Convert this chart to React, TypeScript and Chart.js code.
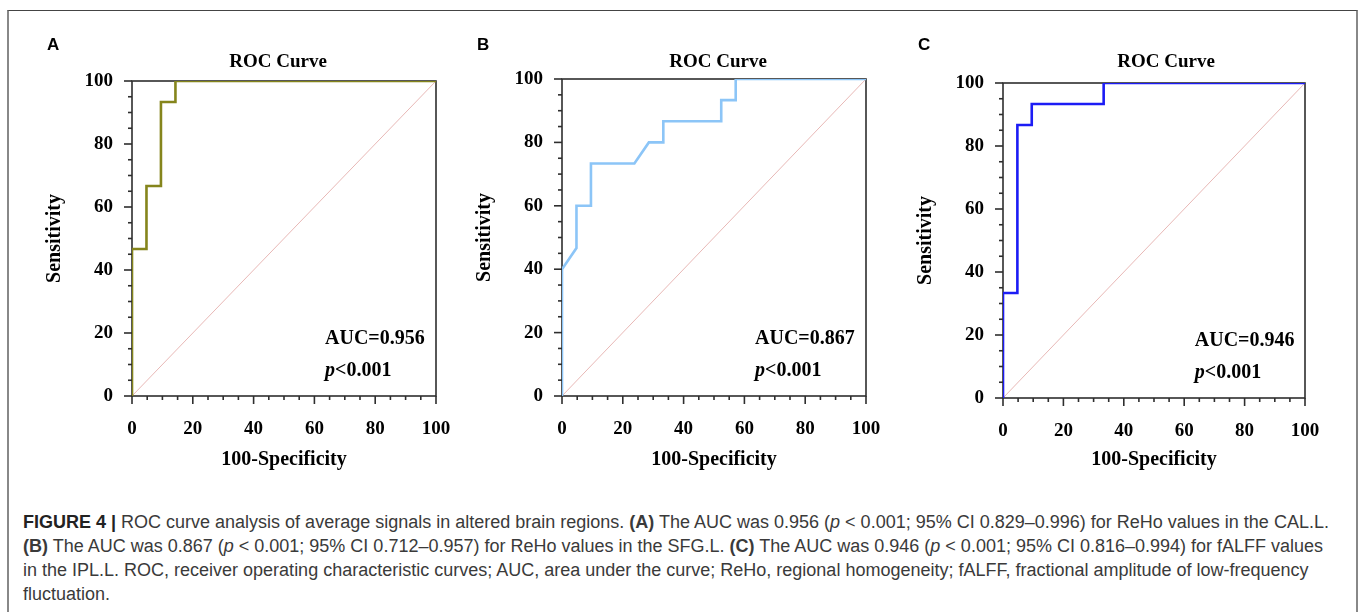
import React, { useEffect, useRef } from "react";
import { Chart, registerables } from "chart.js";

Chart.register(...registerables);

// ---------- data ----------
const panelLetters = ["A", "B", "C"];
const chartTitle = "ROC Curve";
const xAxisTitle = "100-Specificity";
const yAxisTitle = "Sensitivity";
const aucLabels = ["AUC=0.956", "AUC=0.867", "AUC=0.946"];
const pLabelItalic = "p";
const pLabelRest = "<0.001";

const axisMin = 0;
const axisMax = 100;
const majorStep = 20;
const minorStep = 5;

// 100-Specificity (false positive rate, %) and Sensitivity (%) for each panel
const fprA = [0, 0, 4.76, 4.76, 9.52, 9.52, 14.29, 14.29, 100];
const tprA = [0, 46.67, 46.67, 66.67, 66.67, 93.33, 93.33, 100, 100];

const fprB = [0, 0, 4.76, 4.76, 9.52, 9.52, 23.81, 28.57, 33.33, 33.33, 52.38, 52.38, 57.14, 57.14, 100];
const tprB = [0, 40, 46.67, 60, 60, 73.33, 73.33, 80, 80, 86.67, 86.67, 93.33, 93.33, 100, 100];

const fprC = [0, 0, 4.76, 4.76, 9.52, 9.52, 33.33, 33.33, 100];
const tprC = [0, 33.33, 33.33, 86.67, 86.67, 93.33, 93.33, 100, 100];

const refX = [0, 100];
const refY = [0, 100];

// ---------- layout / style ----------
const curveColors = ["#85851c", "#8cc5f7", "#1c1cf5"];
const refColor = "#e8b8b6";
const serif = '"Liberation Serif", "Times New Roman", serif';

type PanelLayout = {
  left: number;
  top: number;
  width: number;
  height: number;
  areaTop: number;
  areaW: number;
  xAxisH: number;
  yAxisW: number;
  titleX: number;
};

const panels: PanelLayout[] = [
  { left: 20, top: 20, width: 460, height: 460, areaTop: 61, areaW: 304, xAxisH: 84, yAxisW: 112, titleX: 258 },
  { left: 450, top: 20, width: 460, height: 460, areaTop: 59, areaW: 304, xAxisH: 84, yAxisW: 112, titleX: 268 },
  { left: 891, top: 20, width: 460, height: 460, areaTop: 63, areaW: 302, xAxisH: 82, yAxisW: 112, titleX: 275 },
];

const toPoints = (xs: number[], ys: number[]) => xs.map((x, i) => ({ x, y: ys[i] }));

const decorPlugin = {
  id: "rocDecor",
  beforeDatasetsDraw(chart: any) {
    const { ctx, chartArea } = chart;
    const { left, right, top, bottom } = chartArea;
    const xs = chart.scales.x;
    const ys = chart.scales.y;
    ctx.save();
    ctx.strokeStyle = "#2e2e2e";
    ctx.lineWidth = 1.6;
    ctx.strokeRect(left, top, right - left, bottom - top);
    for (let v = axisMin; v <= axisMax; v += minorStep) {
      const len = v % majorStep === 0 ? 8 : 4;
      const px = xs.getPixelForValue(v);
      ctx.beginPath();
      ctx.moveTo(px, bottom);
      ctx.lineTo(px, bottom + len);
      ctx.stroke();
      const py = ys.getPixelForValue(v);
      ctx.beginPath();
      ctx.moveTo(left, py);
      ctx.lineTo(left - len, py);
      ctx.stroke();
    }
    ctx.restore();
  },
  afterDraw(chart: any, _args: any, opts: any) {
    const { ctx, chartArea } = chart;
    const { left, right, top, bottom } = chartArea;
    ctx.save();
    ctx.fillStyle = "#000";
    ctx.textBaseline = "alphabetic";

    // panel letter
    ctx.font = 'bold 17px "Liberation Sans", Arial, sans-serif';
    ctx.textAlign = "left";
    ctx.fillText(opts.letter, 27, 30);

    // title
    ctx.font = `bold 19px ${serif}`;
    ctx.textAlign = "center";
    ctx.fillText(chartTitle, opts.titleX, 47);

    // x axis title
    ctx.font = `bold 20px ${serif}`;
    ctx.fillText(xAxisTitle, (left + right) / 2, 445);

    // y axis title
    ctx.save();
    ctx.translate(35, (top + bottom) / 2);
    ctx.rotate(-Math.PI / 2);
    ctx.textBaseline = "middle";
    ctx.fillText(yAxisTitle, 0, 0);
    ctx.restore();

    // AUC & p
    const tx = left + 0.635 * (right - left);
    ctx.textAlign = "left";
    ctx.font = `bold 20px ${serif}`;
    ctx.fillText(opts.auc, tx, bottom - 52);
    ctx.font = `italic bold 20px ${serif}`;
    ctx.fillText(pLabelItalic, tx, bottom - 20);
    const w = ctx.measureText(pLabelItalic).width;
    ctx.font = `bold 20px ${serif}`;
    ctx.fillText(pLabelRest, tx + w, bottom - 20);
    ctx.restore();
  },
};

function RocPanel({ index, fpr, tpr }: { index: number; fpr: number[]; tpr: number[] }) {
  const ref = useRef<HTMLCanvasElement | null>(null);
  const L = panels[index];
  useEffect(() => {
    if (!ref.current) return;
    const tickFont = { family: serif, size: 19, weight: "bold" as const };
    const chart = new Chart(ref.current, {
      type: "scatter",
      data: {
        datasets: [
          {
            data: toPoints(fpr, tpr),
            showLine: true,
            borderColor: curveColors[index],
            borderWidth: 2.6,
            pointRadius: 0,
            fill: false,
            tension: 0,
          },
          {
            data: toPoints(refX, refY),
            showLine: true,
            borderColor: refColor,
            borderWidth: 1,
            pointRadius: 0,
            fill: false,
          },
        ],
      },
      options: {
        animation: false,
        responsive: false,
        events: [],
        layout: {
          padding: {
            top: L.areaTop,
            left: 0,
            bottom: 0,
            right: L.width - L.yAxisW - L.areaW,
          },
        },
        plugins: {
          legend: { display: false },
          tooltip: { enabled: false },
          title: { display: false },
          rocDecor: {
            letter: panelLetters[index],
            auc: aucLabels[index],
            titleX: L.titleX,
          },
        } as any,
        scales: {
          x: {
            type: "linear",
            min: axisMin,
            max: axisMax,
            grid: { display: false, drawTicks: false },
            border: { display: false },
            ticks: {
              stepSize: majorStep,
              padding: 22,
              font: tickFont,
              color: "#000",
              maxRotation: 0,
              autoSkip: false,
            },
            afterFit: (s: any) => {
              s.height = L.xAxisH;
            },
          },
          y: {
            type: "linear",
            min: axisMin,
            max: axisMax,
            grid: { display: false, drawTicks: false },
            border: { display: false },
            ticks: {
              stepSize: majorStep,
              padding: 19,
              font: tickFont,
              color: "#000",
              autoSkip: false,
            },
            afterFit: (s: any) => {
              s.width = L.yAxisW;
            },
          },
        },
      },
      plugins: [decorPlugin],
    });
    return () => chart.destroy();
  }, [index, fpr, tpr]);
  return (
    <canvas
      ref={ref}
      width={L.width}
      height={L.height}
      style={{ position: "absolute", left: L.left, top: L.top, width: L.width, height: L.height, display: "block" }}
    />
  );
}

const captionStyle: React.CSSProperties = {
  position: "absolute",
  left: 23,
  whiteSpace: "nowrap",
  fontFamily: '"Liberation Sans", Arial, Helvetica, sans-serif',
  fontSize: 18,
  lineHeight: "24px",
  color: "#3a3a3a",
};

export default function App() {
  return (
    <div style={{ position: "fixed", left: 0, top: 0, width: 1358, height: 612, background: "#fff", overflow: "hidden" }}>
      <div
        style={{
          position: "absolute",
          left: 7,
          top: 10,
          width: 1347,
          height: 640,
          borderTop: "1px solid #444",
          borderLeft: "2px solid #888",
          borderRight: "2px solid #888",
        }}
      />
      <RocPanel index={0} fpr={fprA} tpr={tprA} />
      <RocPanel index={1} fpr={fprB} tpr={tprB} />
      <RocPanel index={2} fpr={fprC} tpr={tprC} />
      <div style={{ ...captionStyle, top: 510 }}>
        <b style={{ color: "#222" }}>FIGURE 4 |</b> ROC curve analysis of average signals in altered brain regions. <b>(A)</b> The AUC was 0.956 (<i>p</i> &lt; 0.001; 95% CI 0.829–0.996) for ReHo values in the CAL.L.
      </div>
      <div style={{ ...captionStyle, top: 534 }}>
        <b>(B)</b> The AUC was 0.867 (<i>p</i> &lt; 0.001; 95% CI 0.712–0.957) for ReHo values in the SFG.L. <b>(C)</b> The AUC was 0.946 (<i>p</i> &lt; 0.001; 95% CI 0.816–0.994) for fALFF values
      </div>
      <div style={{ ...captionStyle, top: 558 }}>
        in the IPL.L. ROC, receiver operating characteristic curves; AUC, area under the curve; ReHo, regional homogeneity; fALFF, fractional amplitude of low-frequency
      </div>
      <div style={{ ...captionStyle, top: 582 }}>fluctuation.</div>
    </div>
  );
}
